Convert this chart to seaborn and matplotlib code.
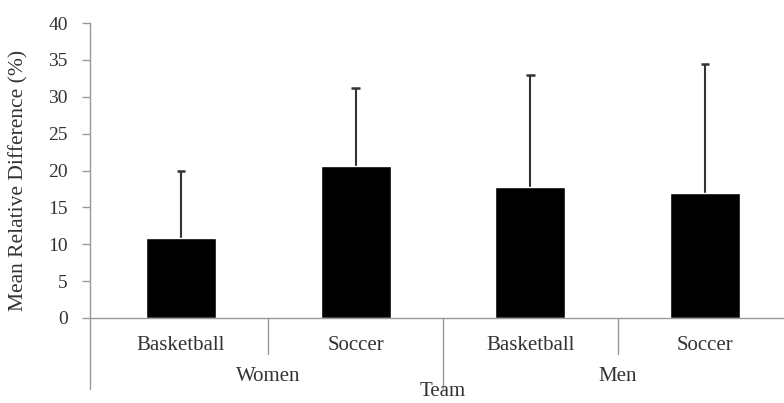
import matplotlib
matplotlib.use("Agg")
import matplotlib.pyplot as plt
import seaborn as sns
import pandas as pd

# Mean relative difference by team, with standard deviations (upper bars only)
sports = ["Basketball", "Soccer", "Basketball", "Soccer"]
groups = ["Women", "Men"]
mean_diff = [10.9, 20.6, 17.8, 16.9]
sd_diff = [9.0, 10.6, 15.1, 17.6]
y_ticks = [0, 5, 10, 15, 20, 25, 30, 35, 40]

sns.set_theme(style="white")
plt.rcParams["font.family"] = ["Liberation Serif", "DejaVu Serif"]

text_color = "#333333"
axis_color = "#999999"

df = pd.DataFrame({"pos": list(range(len(mean_diff))), "value": mean_diff,
                   "sd": sd_diff})

fig = plt.figure(figsize=(7.84, 4.03), dpi=100)
ax = fig.add_axes([90 / 784, 85 / 403, 694 / 784, 295 / 403])

sns.barplot(data=df, x="pos", y="value", color="black", width=0.4,
            errorbar=None, saturation=1, ax=ax, native_scale=True, zorder=2)

# Upper whiskers with caps
tops = df["value"] + df["sd"]
ax.vlines(df["pos"], df["value"], tops, color="#333333", lw=1.5, zorder=1)
ax.hlines(tops, df["pos"] - 0.024, df["pos"] + 0.024, color="#333333",
          lw=1.8, zorder=1)

ax.set_ylim(0, 40)
ax.set_xlim(-0.521, 3.452)
ax.set_yticks(y_ticks)
ax.set_yticklabels([str(t) for t in y_ticks], fontsize=14, color=text_color)
ax.tick_params(axis="y", left=True, length=6, width=1, color=axis_color,
               pad=10)

ax.set_xticks([])
ax.set_xlabel("")
ax.set_ylabel("Mean Relative Difference (%)", fontsize=15.5,
              color=text_color)
ax.yaxis.set_label_coords(-0.088, 0.468)

for side in ["top", "right"]:
    ax.spines[side].set_visible(False)
for side in ["left", "bottom"]:
    ax.spines[side].set_color(axis_color)
    ax.spines[side].set_linewidth(1)

# Category separators below the axis
y_short, y_long = -4.9, -9.6
for x in [0.5, 2.5]:
    ax.plot([x, x], [0, y_short], color=axis_color, lw=1, clip_on=False)
for x in [-0.521, 1.5]:
    ax.plot([x, x], [0, y_long], color=axis_color, lw=1, clip_on=False)

# Sport labels, group labels and axis title
for x, s in zip(df["pos"], sports):
    ax.text(x, -3.7, s, ha="center", va="center", fontsize=15,
            color=text_color, clip_on=False)
for x, g in zip([0.5, 2.5], groups):
    ax.text(x, -7.9, g, ha="center", va="center", fontsize=15,
            color=text_color, clip_on=False)
ax.text(1.5, -10.0, "Team", ha="center", va="center", fontsize=15,
        color=text_color, clip_on=False)

fig.savefig("out.png", dpi=100)
